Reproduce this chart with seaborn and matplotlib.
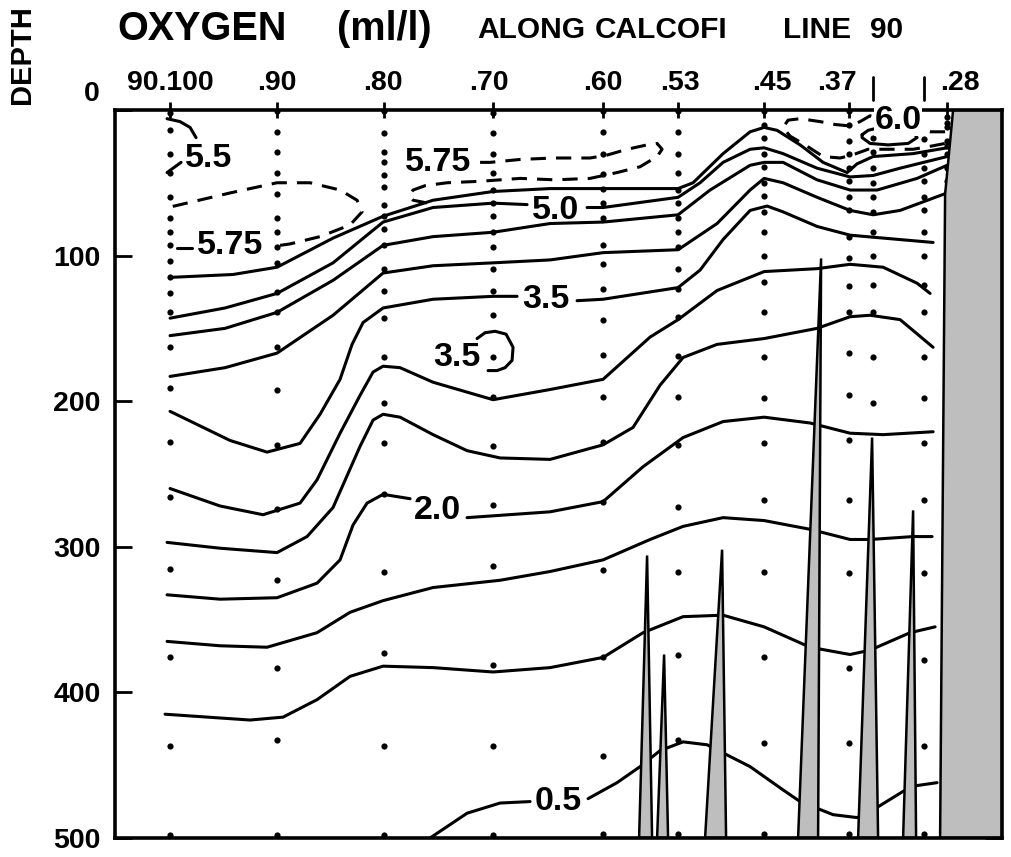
import numpy as np
import pandas as pd
import matplotlib
matplotlib.use("Agg")
import matplotlib.pyplot as plt
import seaborn as sns

# station positions along the line (distance units) and their top labels
stations_x = [0, 107, 214, 323, 433, 508, 594, 679, 703, 754, 777]
tick_labels = ["90.100", ".90", ".80", ".70", ".60", ".53", ".45", ".37", ".28"]
tick_label_x = [0, 107, 213, 319, 433, 510, 602, 667, 790]

# sample depths (m) at each station
dots_100 = [2, 14, 30, 43, 60, 74, 84, 93, 104, 115, 126, 139, 163, 191, 228, 266, 315, 376, 437, 498]
dots_90 = [1, 15, 29, 43, 58, 74, 84, 94, 105, 125, 139, 163, 192, 230, 274, 323, 383, 433, 498]
dots_80 = [1, 16, 29, 36, 45, 53, 65, 73, 82, 93, 109, 124, 143, 170, 201, 229, 264, 317, 373, 437, 498]
dots_70 = [2, 16, 30, 43, 55, 64, 73, 84, 94, 109, 124, 141, 170, 197, 231, 271, 313, 381, 437, 498]
dots_60 = [1, 15, 30, 44, 54, 64, 74, 93, 106, 123, 144, 168, 197, 228, 269, 316, 376, 444, 497]
dots_53 = [1, 15, 30, 43, 55, 64, 74, 84, 94, 109, 123, 142, 169, 197, 230, 273, 317, 374, 433, 497]
dots_45 = [1, 10, 19, 30, 39, 50, 59, 70, 84, 100, 118, 139, 170, 198, 229, 268, 317, 376, 435, 497]
dots_37 = [1, 10, 21, 30, 40, 49, 60, 69, 87, 102, 121, 139, 167, 196, 227, 268, 318, 383, 435, 497]
dots_35 = [19, 29, 40, 50, 60, 70, 84, 100, 120, 139, 170, 201]
dots_30 = [20, 30, 40, 49, 60, 69, 84, 100, 120, 139, 170, 198, 229, 268, 318, 378, 437, 497]
dots_28 = [5, 9, 12, 21, 25, 30, 40, 49, 56, 61]

# oxygen isolines (distance, depth)
c60_x = [692, 698, 710, 730, 743, 747, 738, 718, 700, 692, 692]
c60_d = [17, 14, 12, 12, 15, 19, 23, 24, 23, 19, 17]

c575a_x = [110, 120, 150, 180, 192, 187, 170, 140, 107, 60, -2]
c575a_d = [93, 92, 87, 79, 70, 62, 55, 50, 50, 57, 67]
c575b_x = [310, 320, 350, 383, 420, 437, 457, 477, 487, 492, 487, 470, 447, 420, 385, 350, 310, 277, 255, 243, 239, 243, 258]
c575b_d = [36, 36, 34, 33, 33, 31, 27, 24, 23, 27, 32, 39, 43, 47, 48, 47, 49, 50, 52, 55, 59, 62, 64]
c575c_x = [775, 760, 740, 715, 700, 690, 680, 665, 650, 630, 618, 613, 620, 635, 653, 670, 682, 698, 720, 743, 760, 775]
c575c_d = [15, 15, 13, 8, 4, 8, 11, 10, 8, 6, 7, 12, 18, 24, 32, 33, 31, 27, 27, 27, 25, 23]

c55s1_x = [-3, 10, 20, 26]
c55s1_d = [6, 8, 12, 19]
c55s2_x = [11, -3]
c55s2_d = [36, 43]
c55_x = [0, 63, 107, 163, 213, 263, 323, 380, 433, 508, 523, 538, 553, 580, 594, 607, 630, 653, 677, 687, 703, 743, 777]
c55_d = [115, 113, 108, 88, 73, 62, 56, 54, 54, 54, 50, 40, 30, 15, 12, 14, 24, 36, 43, 37, 32, 30, 26]

c50a_x = [0, 55, 107, 163, 213, 263, 323, 357]
c50a_d = [143, 136, 126, 105, 77, 67, 64, 65]
c50b_x = [417, 433, 508, 530, 553, 580, 594, 613, 647, 680, 703, 730, 777]
c50b_d = [67, 67, 60, 50, 36, 27, 26, 30, 40, 46, 45, 40, 32]

c45_x = [0, 55, 107, 163, 213, 263, 323, 380, 433, 508, 540, 580, 594, 613, 647, 680, 707, 747, 777]
c45_d = [155, 150, 139, 117, 93, 87, 84, 78, 77, 72, 55, 38, 36, 36, 48, 55, 55, 47, 38]

c40_x = [0, 55, 107, 163, 213, 263, 323, 380, 433, 508, 547, 580, 594, 613, 647, 680, 703, 730, 777]
c40_d = [183, 177, 167, 141, 112, 107, 105, 103, 98, 96, 78, 55, 47, 50, 60, 69, 72, 69, 57]

c35a_x = [0, 60, 97, 130, 150, 170, 182, 193, 213, 263, 323, 347]
c35a_d = [207, 227, 235, 229, 209, 185, 161, 146, 136, 130, 128, 128]
c35b_x = [407, 433, 508, 530, 553, 580, 597, 613, 647, 680, 713, 763]
c35b_d = [131, 130, 122, 110, 89, 69, 66, 70, 80, 86, 88, 91]
c35c_x = [307, 315, 325, 336, 343, 342, 335, 327, 318]
c35c_d = [157, 153, 152, 154, 163, 172, 177, 179, 179]

c30_x = [0, 50, 93, 130, 147, 170, 190, 203, 213, 230, 263, 323, 380, 433, 480, 508, 547, 594, 647, 680, 713, 747, 760]
c30_d = [260, 272, 278, 270, 254, 222, 196, 180, 176, 177, 187, 199, 192, 185, 156, 144, 124, 111, 109, 106, 108, 119, 126]

c25_x = [-3, 50, 107, 137, 163, 190, 203, 213, 230, 263, 297, 330, 380, 433, 463, 490, 513, 547, 594, 647, 680, 700, 730, 763]
c25_d = [297, 301, 304, 293, 273, 231, 213, 209, 211, 223, 234, 239, 240, 230, 218, 189, 170, 161, 157, 150, 142, 141, 144, 163]

c20a_x = [-3, 50, 107, 147, 170, 183, 197, 213, 240]
c20a_d = [333, 336, 335, 325, 309, 285, 270, 264, 267]
c20b_x = [297, 380, 433, 473, 513, 553, 594, 640, 680, 713, 763]
c20b_d = [280, 276, 269, 245, 225, 214, 211, 215, 222, 223, 221]

c15_x = [-3, 50, 97, 147, 180, 213, 263, 330, 380, 433, 480, 513, 553, 594, 640, 680, 700, 743, 762]
c15_d = [365, 368, 369, 359, 345, 337, 328, 323, 317, 309, 295, 286, 280, 282, 288, 295, 295, 293, 293]

c10_x = [-5, 80, 113, 147, 180, 213, 263, 323, 380, 433, 473, 513, 553, 594, 640, 680, 700, 740, 765]
c10_d = [415, 419, 417, 405, 389, 382, 383, 386, 383, 376, 359, 348, 347, 355, 369, 374, 371, 359, 355]

c05a_x = [260, 297, 330, 360]
c05a_d = [500, 483, 476, 475]
c05b_x = [418, 447, 470, 490, 513, 537, 580, 613, 630, 663, 687, 707, 733, 747, 767]
c05b_d = [473, 462, 451, 440, 434, 436, 451, 467, 475, 484, 486, 479, 468, 464, 462]

# isoline labels
iso_labels = ["5.5", "5.75", "5.75", "5.0", "6.0", "3.5", "3.5", "2.0", "0.5"]
iso_label_x = [39, 268, 60, 386, 728, 376, 287, 267, 388]
iso_label_d = [33, 36, 93, 69, 7, 130, 170, 275, 475]

# bottom ridges (base left, base right, apex)
ridge_left = [469, 487, 535, 628, 688, 733]
ridge_right = [482, 498, 556, 648, 708, 746]
ridge_apex_x = [477, 494, 552, 651, 702, 743]
ridge_apex_d = [306, 374, 302, 102, 225, 275]

# coast / shelf edge
coast_x = [783, 775, 770]
coast_d = [0, 58, 500]

GRAY = "#bebebe"

sns.set_style("white")
plt.rcParams["font.family"] = ["Liberation Sans", "DejaVu Sans"]
plt.rcParams["font.weight"] = "bold"
plt.rcParams["text.color"] = "black"

fig = plt.figure(figsize=(10.11, 8.57), dpi=100)
ax = fig.add_axes([0.1138, 0.0222, 0.8774, 0.8495])

# station sample dots
all_dots = [dots_100, dots_90, dots_80, dots_70, dots_60, dots_53,
            dots_45, dots_37, dots_35, dots_30, dots_28]
dot_df = pd.DataFrame({
    "x": np.concatenate([[sx] * len(d) for sx, d in zip(stations_x, all_dots)]),
    "depth": np.concatenate(all_dots),
})
sns.scatterplot(data=dot_df, x="x", y="depth", color="black", s=20,
                linewidth=0, ax=ax, zorder=3)

solid_lines = [(c60_x, c60_d), (c55s1_x, c55s1_d), (c55s2_x, c55s2_d),
               (c55_x, c55_d), (c50a_x, c50a_d), (c50b_x, c50b_d),
               (c45_x, c45_d), (c40_x, c40_d), (c35a_x, c35a_d),
               (c35b_x, c35b_d), (c35c_x, c35c_d), (c30_x, c30_d),
               (c25_x, c25_d), (c20a_x, c20a_d), (c20b_x, c20b_d),
               (c15_x, c15_d), (c10_x, c10_d), (c05a_x, c05a_d),
               (c05b_x, c05b_d), ([7, 22], [95, 95])]
dashed_lines = [(c575a_x, c575a_d), (c575b_x, c575b_d), (c575c_x, c575c_d)]

for xs, ds in solid_lines:
    sns.lineplot(x=xs, y=ds, sort=False, estimator=None, color="black",
                 lw=2.2, ax=ax, zorder=4, solid_joinstyle="round",
                 solid_capstyle="round")
for xs, ds in dashed_lines:
    sns.lineplot(x=xs, y=ds, sort=False, estimator=None, color="black",
                 lw=2.2, ax=ax, zorder=4, linestyle=(0, (5.0, 3.3)))

# ridges and coast in gray
for bl, br, axx, ad in zip(ridge_left, ridge_right, ridge_apex_x, ridge_apex_d):
    ax.fill([bl, axx, br], [500, ad, 500], facecolor=GRAY, edgecolor="black",
            lw=1.8, zorder=5)
ax.fill(coast_x + [832, 832], coast_d + [500, 0], facecolor=GRAY,
        edgecolor="black", lw=1.8, zorder=5)

# labels on isolines
for lab, lx, ld in zip(iso_labels, iso_label_x, iso_label_d):
    kw = {}
    if lab == "6.0":
        kw["bbox"] = dict(facecolor="white", edgecolor="none", pad=0.5)
    ax.text(lx, ld, lab, fontsize=24.5, fontweight="bold", ha="center",
            va="center", zorder=7, **kw)

# marks above the axis for the unlabeled stations
for sx in (stations_x[8], stations_x[9]):
    ax.plot([sx, sx], [-22.7, -6.9], color="black", lw=2, clip_on=False)

ax.set_xlim(-55, 832)
ax.set_ylim(500, 0)

ax.xaxis.set_ticks_position("top")
ax.set_xticks(stations_x[:8] + [stations_x[10]])
ax.set_xticklabels([])
ax.tick_params(axis="x", direction="inout", length=11, width=2,
               color="black", top=True, bottom=False)
for lab, lx in zip(tick_labels, tick_label_x):
    ax.text(lx, 1.027, lab, transform=ax.get_xaxis_transform(),
            ha="center", va="baseline", fontsize=20.5, fontweight="bold")

ax.set_yticks([0, 100, 200, 300, 400, 500])
ax.set_yticklabels(["", "100", "200", "300", "400", "500"],
                   fontsize=20.5, fontweight="bold")
ax.tick_params(axis="y", direction="in", length=12, width=2, color="black",
               left=True, right=True, pad=10.5, labelcolor="black")
ax.text(-0.017, -11, "0", transform=ax.get_yaxis_transform(), ha="right",
        va="center", fontsize=20.5, fontweight="bold")
ax.set_xlabel("")
ax.set_ylabel("")

for s in ax.spines.values():
    s.set_linewidth(2.6)
    s.set_color("black")
    s.set_zorder(6)

# titles
fig.text(117 / 1011, 1 - 40 / 857, "OXYGEN", fontsize=28.5, fontweight="bold",
         ha="left", va="baseline")
fig.text(337 / 1011, 1 - 40 / 857, "(ml/l)", fontsize=28.5, fontweight="bold",
         ha="left", va="baseline")
for word, px in zip(["ALONG", "CALCOFI", "LINE", "90"], [477, 595, 783, 870]):
    fig.text(px / 1011, 1 - 38 / 857, word, fontsize=21.5, fontweight="bold",
             ha="left", va="baseline")
fig.text(0.0218, 0.936, "DEPTH", rotation=90, fontsize=21,
         fontweight="bold", ha="center", va="center")

fig.savefig("out.png", dpi=100)
